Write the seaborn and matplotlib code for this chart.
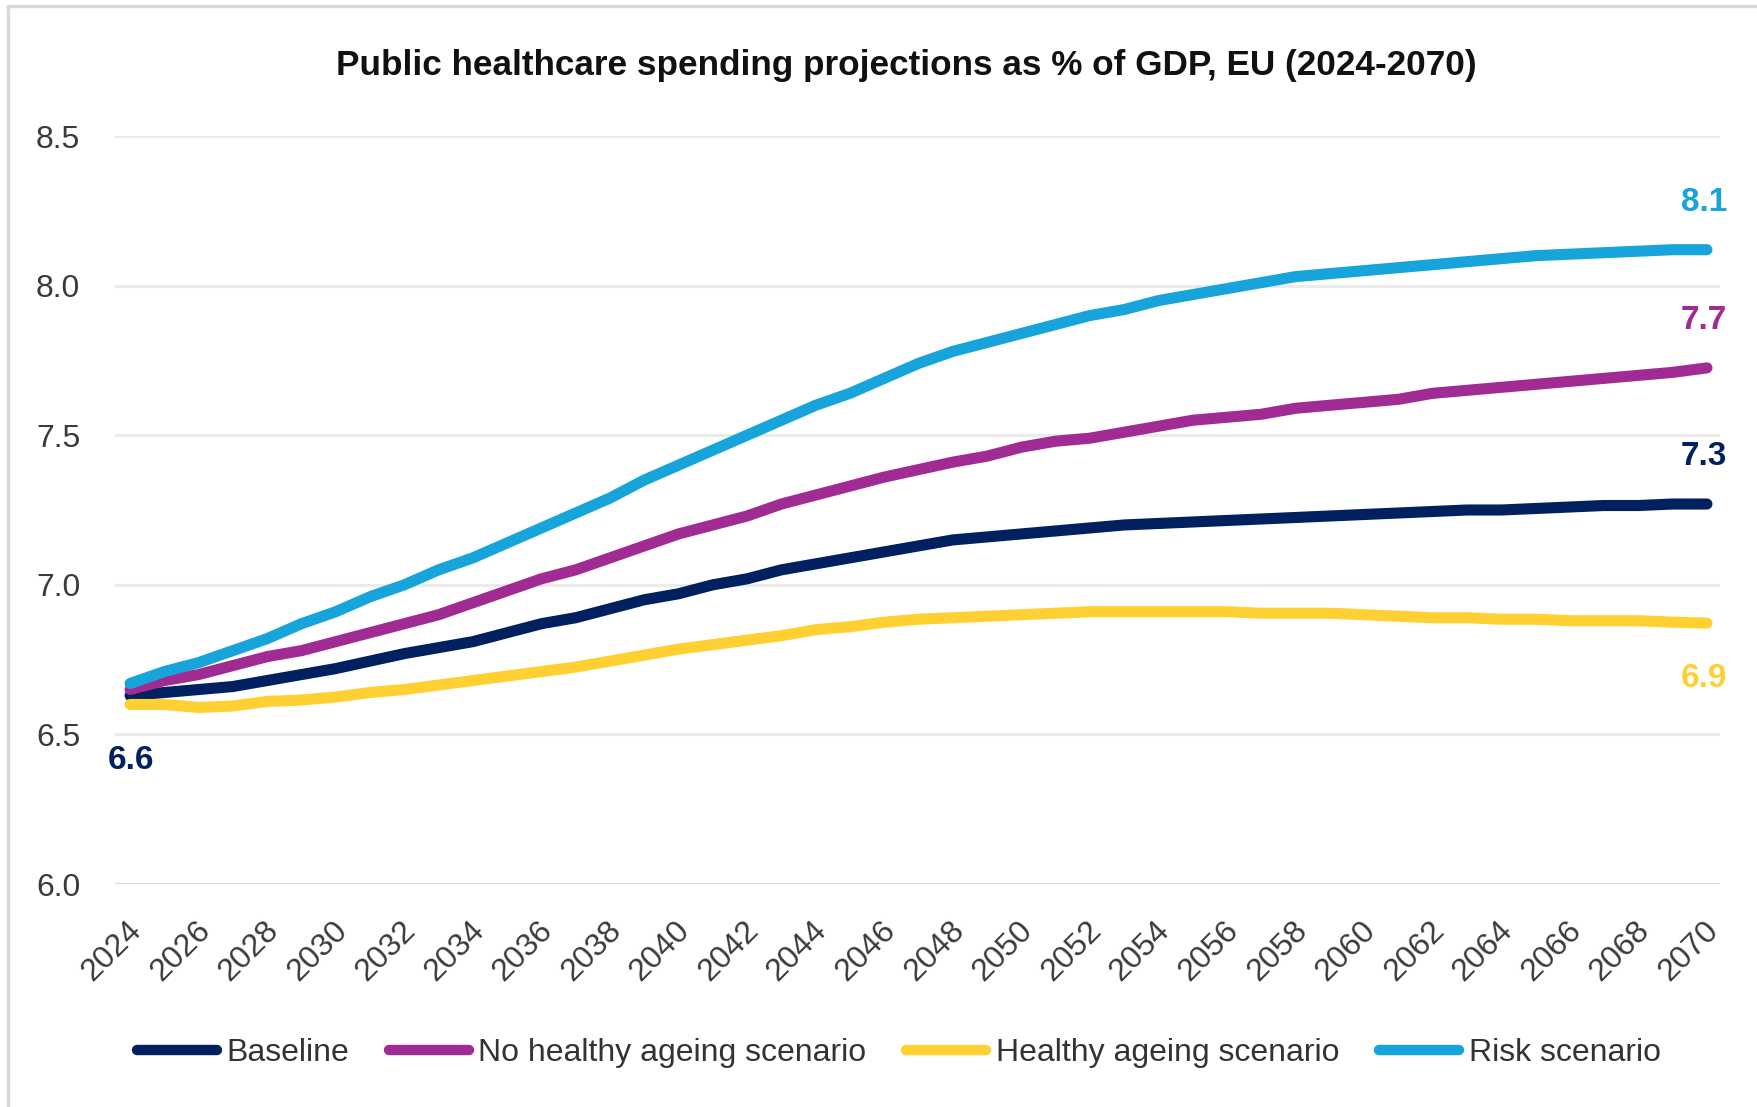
import matplotlib
matplotlib.use("Agg")
import matplotlib.pyplot as plt
import matplotlib.transforms as mtransforms
from matplotlib.lines import Line2D
import seaborn as sns
import pandas as pd

# Projection years and scenarios (public healthcare spending, % of GDP)
years = list(range(2024, 2071))

baseline = [6.63, 6.64, 6.65, 6.66, 6.68, 6.70, 6.72, 6.745, 6.77, 6.79,
            6.81, 6.84, 6.87, 6.89, 6.92, 6.95, 6.97, 7.00, 7.02, 7.05,
            7.07, 7.09, 7.11, 7.13, 7.15, 7.16, 7.17, 7.18, 7.19, 7.20,
            7.205, 7.21, 7.215, 7.22, 7.225, 7.23, 7.235, 7.24, 7.245, 7.25,
            7.25, 7.255, 7.26, 7.265, 7.265, 7.27, 7.27]

no_healthy_ageing = [6.65, 6.68, 6.70, 6.73, 6.76, 6.78, 6.81, 6.84, 6.87, 6.90,
                     6.94, 6.98, 7.02, 7.05, 7.09, 7.13, 7.17, 7.20, 7.23, 7.27,
                     7.30, 7.33, 7.36, 7.385, 7.41, 7.43, 7.46, 7.48, 7.49, 7.51,
                     7.53, 7.55, 7.56, 7.57, 7.59, 7.60, 7.61, 7.62, 7.64, 7.65,
                     7.66, 7.67, 7.68, 7.69, 7.70, 7.71, 7.725]

healthy_ageing = [6.60, 6.60, 6.59, 6.595, 6.61, 6.615, 6.625, 6.64, 6.65, 6.665,
                  6.68, 6.695, 6.71, 6.725, 6.745, 6.765, 6.785, 6.80, 6.815, 6.83,
                  6.85, 6.86, 6.875, 6.885, 6.89, 6.895, 6.90, 6.905, 6.91, 6.91,
                  6.91, 6.91, 6.91, 6.905, 6.905, 6.905, 6.90, 6.895, 6.89, 6.89,
                  6.885, 6.885, 6.88, 6.88, 6.88, 6.875, 6.872]

risk = [6.67, 6.71, 6.74, 6.78, 6.82, 6.87, 6.91, 6.96, 7.00, 7.05,
        7.09, 7.14, 7.19, 7.24, 7.29, 7.35, 7.40, 7.45, 7.50, 7.55,
        7.60, 7.64, 7.69, 7.74, 7.78, 7.81, 7.84, 7.87, 7.90, 7.92,
        7.95, 7.97, 7.99, 8.01, 8.03, 8.04, 8.05, 8.06, 8.07, 8.08,
        8.09, 8.10, 8.105, 8.11, 8.115, 8.12, 8.12]

scenario_names = ["Baseline", "No healthy ageing scenario",
                  "Healthy ageing scenario", "Risk scenario"]
scenario_colors = ["#002060", "#A02B93", "#FFD032", "#16A4DB"]
y_ticks = [6.0, 6.5, 7.0, 7.5, 8.0, 8.5]
x_ticks = list(range(2024, 2071, 2))

title = "Public healthcare spending projections as % of GDP, EU (2024-2070)"

series = [baseline, no_healthy_ageing, healthy_ageing, risk]
df = pd.concat(
    [pd.DataFrame({"Year": years, "Value": vals, "Scenario": name})
     for name, vals in zip(scenario_names, series)],
    ignore_index=True,
)

sns.set_theme(style="white")
plt.rcParams["font.family"] = ["Liberation Sans", "DejaVu Sans"]

W, H = 1757, 1107
fig = plt.figure(figsize=(W / 100, H / 100), dpi=100)
fig.patch.set_facecolor("white")

# light frame along the top and left edge of the chart area
fig.add_artist(Line2D([8 / W, 8 / W], [0, 1 - 6 / H], color="#D9D9D9", lw=2.5,
                      transform=fig.transFigure))
fig.add_artist(Line2D([8 / W, 1], [1 - 6 / H, 1 - 6 / H], color="#D9D9D9", lw=2.5,
                      transform=fig.transFigure))

ax_left, ax_right = 115 / W, 1720 / W
ax_top, ax_bottom = 1 - 136 / H, 1 - 884 / H
ax = fig.add_axes([ax_left, ax_bottom, ax_right - ax_left, ax_top - ax_bottom])

sns.lineplot(data=df, x="Year", y="Value", hue="Scenario",
             hue_order=scenario_names, palette=scenario_colors,
             linewidth=8, ax=ax, legend=False, zorder=3)
for ln in ax.lines:
    ln.set_solid_capstyle("round")
    ln.set_solid_joinstyle("round")

ax.set_xlim(2023.56, 2070.38)
ax.set_ylim(6.0, 8.5)
ax.set_yticks(y_ticks)
ax.set_yticklabels([f"{v:.1f}" for v in y_ticks])
ax.set_xticks(x_ticks)
ax.set_xticklabels([str(y) for y in x_ticks])
ax.set_xlabel("")
ax.set_ylabel("")

for sp in ax.spines.values():
    sp.set_visible(False)

# horizontal gridlines
for v in y_ticks:
    ax.axhline(v, color="#D9D9D9" if v == 6.0 else "#EBEBEB",
               lw=2.2, zorder=1)

ax.tick_params(axis="y", length=0, pad=25, labelsize=23, labelcolor="#3A3A3A")
ax.tick_params(axis="x", length=0, pad=30, labelsize=23, labelcolor="#3A3A3A")
offset = mtransforms.ScaledTranslation(7 / 100, 0, fig.dpi_scale_trans)
for lab in ax.get_xticklabels():
    lab.set_rotation(45)
    lab.set_ha("right")
    lab.set_va("center")
    lab.set_rotation_mode("anchor")
    lab.set_transform(lab.get_transform() + offset)

# value labels at the start and end of the lines
label_kw = dict(textcoords="offset points", ha="center", va="center",
                fontsize=24, fontweight="bold")
ax.annotate(f"{baseline[0]:.1f}", (years[0], baseline[0]), xytext=(1, -47),
            color=scenario_colors[0], **label_kw)
end_offsets = [34, 34, -40, 34]
for name, vals, col, dy in zip(scenario_names, series, scenario_colors, end_offsets):
    ax.annotate(f"{vals[-1]:.1f}", (years[-1], vals[-1]), xytext=(-2, dy),
                color=col, **label_kw)

fig.text(906 / W, 1 - 66 / H, title, ha="center", va="center",
         fontsize=25.3, fontweight="bold", color="#111111",
         family=["Liberation Sans Narrow", "Liberation Sans", "DejaVu Sans"])

handles = [Line2D([0], [0], color=c, lw=7.5, solid_capstyle="round")
           for c in scenario_colors]
fig.legend(handles, scenario_names, loc="center", ncol=4,
           bbox_to_anchor=(802 * 1757 / 1568 / W, 1 - 1053 / H),
           frameon=False, fontsize=23, handlelength=2.5, handletextpad=0.3,
           columnspacing=1.25, labelcolor="#333333")

fig.savefig("out.png", dpi=100, facecolor="white")
